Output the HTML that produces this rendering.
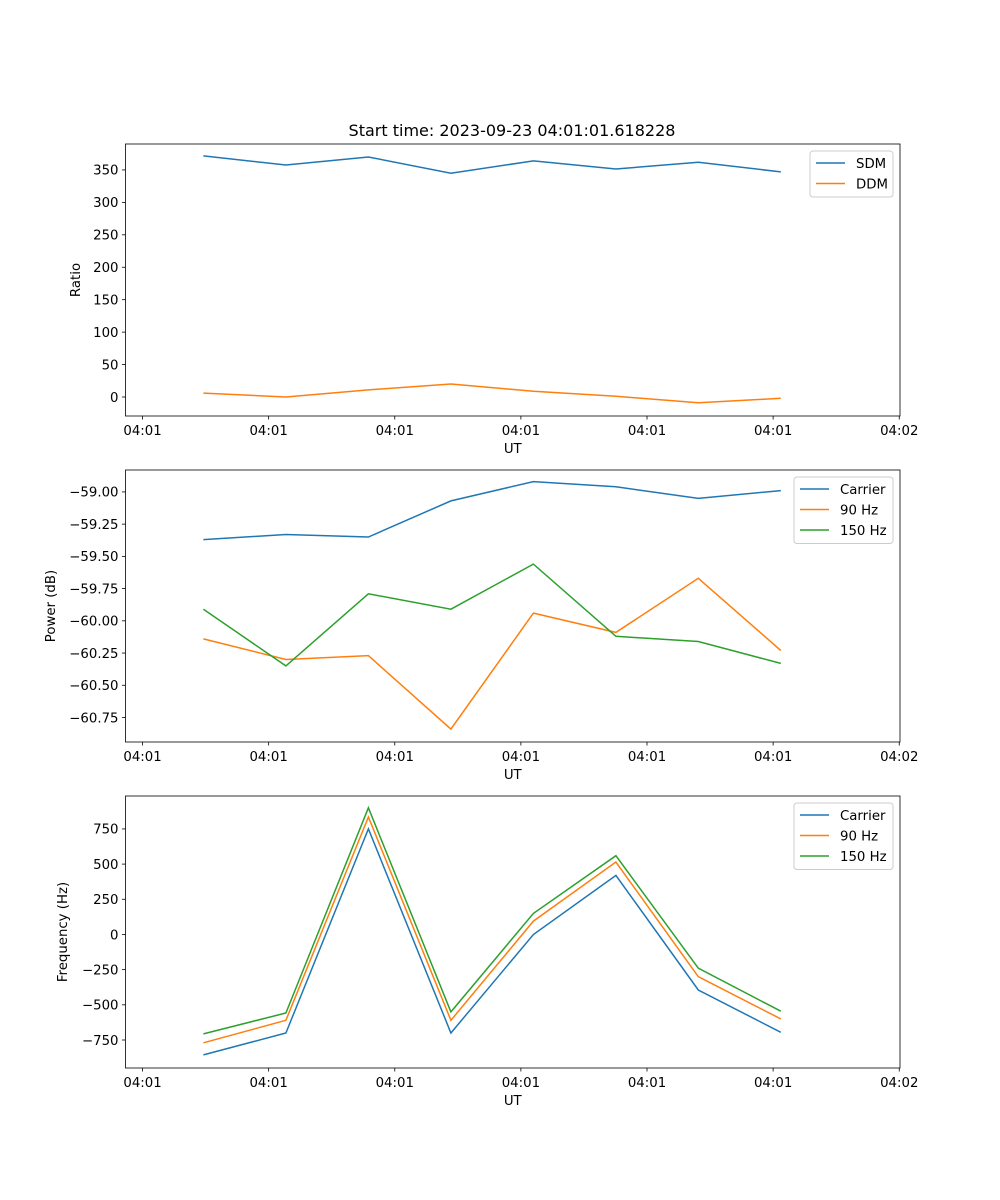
<!DOCTYPE html>
<html><head><meta charset="utf-8"><style>
html,body{margin:0;padding:0;background:#fff}
svg{display:block;font-family:"DejaVu Sans","Liberation Sans",sans-serif}
</style></head><body>
<svg id="fig" width="1000" height="1200" viewBox="0 0 1000 1200">
<text x="512" y="136" font-size="16" text-anchor="middle" fill="#000">Start time: 2023-09-23 04:01:01.618228</text>
</svg>
<script>
const xTickLabels = ["04:01","04:01","04:01","04:01","04:01","04:01","04:02"];
const xVals = [0.483,1.137,1.791,2.445,3.099,3.753,4.407,5.061];
const sdm = [371.6,357.7,370,345,364,351.5,362,347];
const ddm = [6,0,11,20,9,1,-9,-2];
const powCarrier = [-59.37,-59.33,-59.35,-59.07,-58.92,-58.96,-59.05,-58.99];
const pow90 = [-60.14,-60.30,-60.27,-60.84,-59.94,-60.09,-59.67,-60.23];
const pow150 = [-59.91,-60.35,-59.79,-59.91,-59.56,-60.12,-60.16,-60.33];
const freqCarrier = [-856,-700,750,-700,0,420,-395,-695];
const freq90 = [-770,-610,835,-610,95,515,-300,-600];
const freq150 = [-707,-558,900,-550,150,560,-240,-545];
const ratioTicks = [0,50,100,150,200,250,300,350];
const powTicks = [-60.75,-60.5,-60.25,-60.0,-59.75,-59.5,-59.25,-59.0];
const freqTicks = [-750,-500,-250,0,250,500,750];

const NS="http://www.w3.org/2000/svg";
const svg=document.getElementById('fig');
const C=["#1f77b4","#ff7f0e","#2ca02c"];
function el(tag,attrs,parent){const e=document.createElementNS(NS,tag);for(const k in attrs)e.setAttribute(k,attrs[k]);(parent||svg).appendChild(e);return e;}
const L=125.5,R=900;
const xMin=-0.135,xMax=6.006;
function X(v){return L+(v-xMin)/(xMax-xMin)*(R-L);}

function panel(name,top,bottom,yMin,yMax,ticks,fmt,ylabel,series,labels,legend){
  const g=el('g',{});
  
  
  const Y=v=>bottom-(v-yMin)/(yMax-yMin)*(bottom-top);
  series.forEach((s,i)=>{
    const p=el('polyline',{points:s.map((v,j)=>X(xVals[j]).toFixed(1)+','+Y(v).toFixed(1)).join(' '),fill:'none',stroke:C[i],'stroke-width':1.5},g);
    
    
  });
  const f=el('rect',{x:L,y:top,width:R-L,height:bottom-top,fill:'none',stroke:'#000','stroke-width':0.8},g);
  
  
  xTickLabels.forEach((t,i)=>{
    const x=X(i);
    el('line',{x1:x,y1:bottom,x2:x,y2:bottom+3.5,stroke:'#000','stroke-width':0.8},g);
    const tx=el('text',{x:x,y:bottom+19,'font-size':13.3,'text-anchor':'middle'},g);
    tx.textContent=t;
    
    
  });
  const xl=el('text',{x:(L+R)/2,y:bottom+37,'font-size':13.3,'text-anchor':'middle'},g);
  xl.textContent='UT';
  
  
  ticks.forEach(t=>{
    const y=Y(t);
    el('line',{x1:L-3.5,y1:y,x2:L,y2:y,stroke:'#000','stroke-width':0.8},g);
    const tx=el('text',{x:L-7,y:y+4.8,'font-size':13.3,'text-anchor':'end'},g);
    tx.textContent=fmt(t);
    
    
  });
  const cy=(top+bottom)/2;
  const yl=el('text',{x:0,y:0,'font-size':13.3,'text-anchor':'middle',transform:`translate(${legend.yl},${cy}) rotate(-90)`},g);
  yl.textContent=ylabel;
  
  
  const lg=el('g',{},g);
  
  
  el('rect',{x:legend.x,y:top+7,width:legend.w,height:labels.length*20.5+5,rx:3,fill:'#fff','fill-opacity':0.8,stroke:'#ccc','stroke-width':1},lg);
  labels.forEach((lab,i)=>{
    const y=top+19+i*20.5;
    el('line',{x1:legend.x+6,y1:y,x2:legend.x+35,y2:y,stroke:C[i],'stroke-width':1.5},lg);
    const tx=el('text',{x:legend.x+46,y:y+4.8,'font-size':13.3},lg);
    tx.textContent=lab;
    
    
  });
}
const m=v=>String(v).replace('-','\u2212');
panel('ratio',144,416,-29.3,390,ratioTicks,v=>m(v),'Ratio',[sdm,ddm],['SDM','DDM'],{x:810,w:83,yl:80});
panel('power',470,742,-60.94,-58.83,powTicks,v=>m(v.toFixed(2)),'Power (dB)',[powCarrier,pow90,pow150],['Carrier','90 Hz','150 Hz'],{x:794,w:99,yl:55});
panel('frequency',796,1068,-949,984,freqTicks,v=>m(v),'Frequency (Hz)',[freqCarrier,freq90,freq150],['Carrier','90 Hz','150 Hz'],{x:794,w:99,yl:67});
</script>
</body></html>
